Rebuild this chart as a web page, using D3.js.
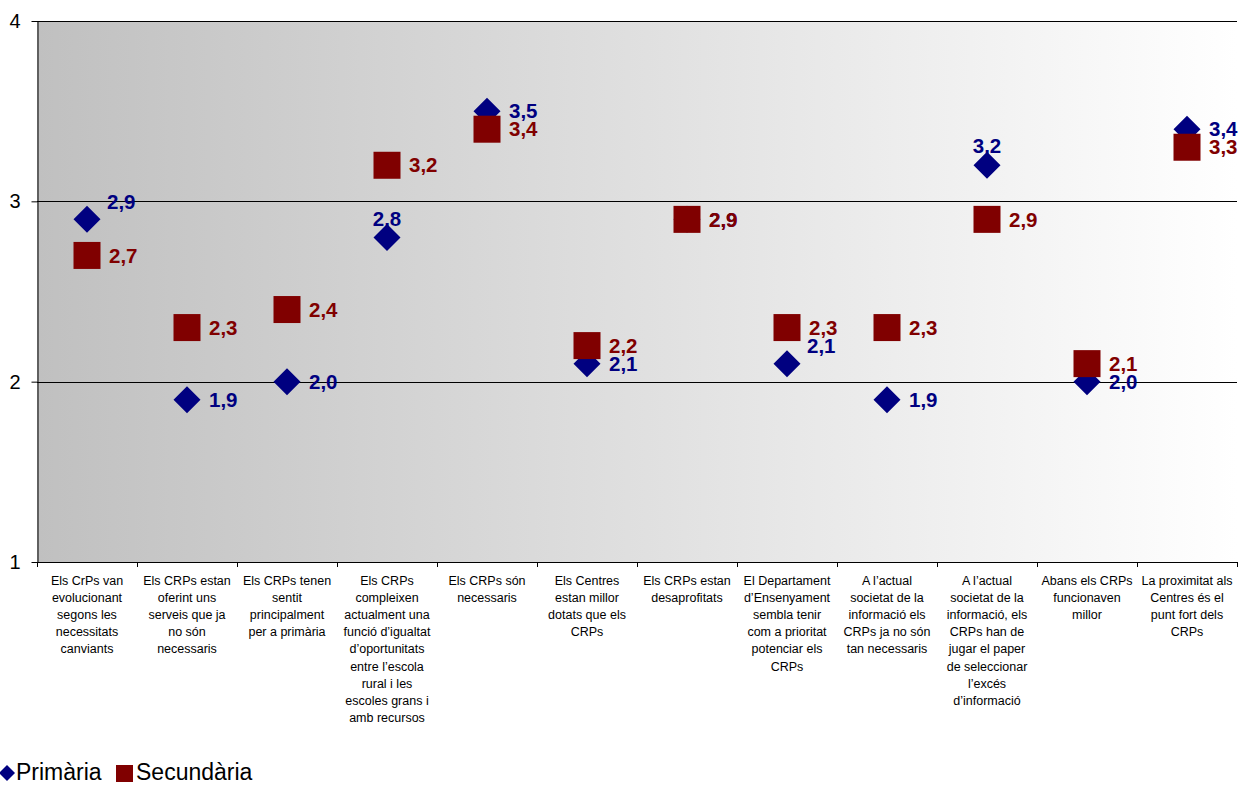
<!DOCTYPE html>
<html><head><meta charset="utf-8">
<script src="https://cdn.jsdelivr.net/npm/d3@7"></script>
<style>body{margin:0;background:#fff}svg{display:block;font-family:Arial,"Liberation Sans",sans-serif}</style>
</head><body>
<svg id="c" width="1250" height="785"></svg>
<script>
const categories = [
  "Els CrPs van\nevolucionant\nsegons les\nnecessitats\ncanviants",
  "Els CRPs estan\noferint uns\nserveis que ja\nno són\nnecessaris",
  "Els CRPs tenen\nsentit\nprincipalment\nper a primària",
  "Els CRPs\ncompleixen\nactualment una\nfunció d’igualtat\nd’oportunitats\nentre l’escola\nrural i les\nescoles grans i\namb recursos",
  "Els CRPs són\nnecessaris",
  "Els Centres\nestan millor\ndotats que els\nCRPs",
  "Els CRPs estan\ndesaprofitats",
  "El Departament\nd’Ensenyament\nsembla tenir\ncom a prioritat\npotenciar els\nCRPs",
  "A l’actual\nsocietat de la\ninformació els\nCRPs ja no són\ntan necessaris",
  "A l’actual\nsocietat de la\ninformació, els\nCRPs han de\njugar el paper\nde seleccionar\nl’excés\nd’informació",
  "Abans els CRPs\nfuncionaven\nmillor",
  "La proximitat als\nCentres és el\npunt fort dels\nCRPs"
];
const primaria   = [2.9, 1.9, 2.0, 2.8, 3.5, 2.1, 2.9, 2.1, 1.9, 3.2, 2.0, 3.4];
const secundaria = [2.7, 2.3, 2.4, 3.2, 3.4, 2.2, 2.9, 2.3, 2.3, 2.9, 2.1, 3.3];
const yTicks = [1, 2, 3, 4];
const seriesNames = ["Primària", "Secundària"];
// label placement style for Primària labels (r = right, ur = upper right, u = above)
const primariaLabelPlace = ["ur", "r", "r", "u", "r", "r", "r", "ur", "r", "u", "r", "r"];

const svg = d3.select("#c");
const L = 37, R = 1237, T = 21, B = 562;
const x = d3.scaleBand().domain(d3.range(categories.length)).range([L, R]);
const y = d3.scaleLinear().domain([1, 4]).range([B, T]);

const defs = svg.append("defs");
const g = defs.append("linearGradient").attr("id", "bg").attr("x1", 0).attr("x2", 1).attr("y1", 0).attr("y2", 0);
g.append("stop").attr("offset", 0).attr("stop-color", "#c0c0c0");
g.append("stop").attr("offset", 1).attr("stop-color", "#ffffff");

svg.append("rect").attr("x", L).attr("y", T).attr("width", R - L).attr("height", B - T).attr("fill", "url(#bg)");

// gridlines
svg.append("g").selectAll("line").data(yTicks.filter(d => d > 1)).join("line")
  .attr("x1", L).attr("x2", R)
  .attr("y1", d => Math.round(y(d)) + 0.5).attr("y2", d => Math.round(y(d)) + 0.5)
  .attr("stroke", "#000").attr("stroke-width", 1);

// y axis
const yAxis = svg.append("g").attr("transform", `translate(${L + 0.5},0)`)
  .call(d3.axisLeft(y).tickValues(yTicks).tickFormat(d3.format("d")).tickSize(6).tickSizeOuter(0));
yAxis.select(".domain").attr("stroke", "#000");
yAxis.selectAll(".tick line").attr("stroke", "#000");
yAxis.selectAll(".tick text").attr("font-size", 20).attr("font-family", "Arial, 'Liberation Sans', sans-serif")
  .attr("fill", "#000").attr("x", -28).attr("text-anchor", "start").attr("dx", 0);

// x axis line and ticks
const xa = svg.append("g");
xa.append("line").attr("x1", L).attr("x2", R).attr("y1", B + 0.5).attr("y2", B + 0.5).attr("stroke", "#000");
xa.selectAll("line.t").data(d3.range(categories.length + 1)).join("line").attr("class", "t")
  .attr("x1", i => Math.round(L + i * x.bandwidth()) + 0.5)
  .attr("x2", i => Math.round(L + i * x.bandwidth()) + 0.5)
  .attr("y1", B).attr("y2", B + 5).attr("stroke", "#000");

// category labels
const cl = svg.append("g").selectAll("text").data(categories).join("text")
  .attr("x", (d, i) => x(i) + x.bandwidth() / 2)
  .attr("y", 585)
  .attr("text-anchor", "middle").attr("font-size", 12.5).attr("fill", "#000");
cl.each(function (d) {
  const t = d3.select(this);
  d.split("\n").forEach((ln, k) => {
    t.append("tspan").attr("x", t.attr("x")).attr("dy", k === 0 ? 0 : 17.1).text(ln);
  });
});

const cx = i => x(i) + x.bandwidth() / 2;
const blue = "#000080", red = "#800000";
const fmt = d => d3.format(".1f")(d).replace(".", ",");

// Primària diamonds
const dia = 13.5;
svg.append("g").selectAll("path").data(primaria).join("path")
  .attr("d", (d, i) => `M${cx(i)},${y(d) - dia}L${cx(i) + dia},${y(d)}L${cx(i)},${y(d) + dia}L${cx(i) - dia},${y(d)}Z`)
  .attr("fill", blue);
svg.append("g").selectAll("text").data(primaria).join("text")
  .attr("x", (d, i) => {
    const p = primariaLabelPlace[i];
    return p === "u" ? cx(i) : p === "ur" ? cx(i) + 20 : cx(i) + 22;
  })
  .attr("y", (d, i) => {
    const p = primariaLabelPlace[i];
    return p === "u" ? y(d) - 19 : p === "ur" ? y(d) - 17.5 : y(d);
  })
  .attr("text-anchor", (d, i) => primariaLabelPlace[i] === "u" ? "middle" : "start")
  .attr("dy", "0.35em")
  .attr("font-size", 20.5).attr("font-weight", "bold").attr("fill", blue)
  .text(fmt);

// Secundària squares
const sq = 13.5;
svg.append("g").selectAll("rect").data(secundaria).join("rect")
  .attr("x", (d, i) => cx(i) - sq).attr("y", d => y(d) - sq)
  .attr("width", sq * 2).attr("height", sq * 2).attr("fill", red);
svg.append("g").selectAll("text").data(secundaria).join("text")
  .attr("x", (d, i) => cx(i) + 22).attr("y", d => y(d)).attr("dy", "0.35em")
  .attr("font-size", 20.5).attr("font-weight", "bold").attr("fill", red)
  .text(fmt);

// legend
const lg = svg.append("g");
lg.append("path").attr("d", "M7,765L15,773L7,781L-1,773Z").attr("fill", blue);
lg.append("text").attr("x", 16).attr("y", 772).attr("dy", "0.36em").attr("font-size", 23).text(seriesNames[0]);
lg.append("rect").attr("x", 116).attr("y", 765).attr("width", 17).attr("height", 17).attr("fill", red);
lg.append("text").attr("x", 136).attr("y", 772).attr("dy", "0.36em").attr("font-size", 23).text(seriesNames[1]);
</script>
</body></html>
